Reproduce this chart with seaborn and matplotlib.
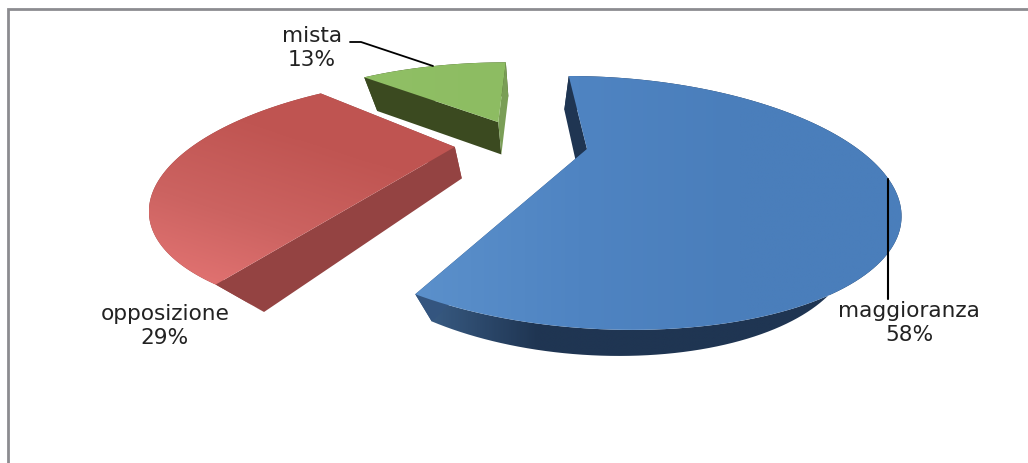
import numpy as np
import matplotlib
matplotlib.use("Agg")
import matplotlib.pyplot as plt
from matplotlib.patches import Polygon
import seaborn as sns

categories = ["maggioranza", "opposizione", "mista"]
shares = [58, 29, 13]

# Layout of the tilted pie (pixel-based data space)
APEX = (587, 150)
F, G, K, SHEAR = 271, 104, 0.425, -26
OFFSETS = [(0.0, 0.0), (-0.49, 0.02), (-0.34, 0.29)]
RADII = [1.0, 0.98, 1.0]
VANISH_X = [536, 495, 540]
VANISH_K = [0.864, 0.827, 0.926]
TOP_COL = [("#5b90cb", "#4f84c2", "#4a7ebb", "#4a7ebb"),
           ("#bf5451", "#c05552", "#cc6361", "#e57574"),
           ("#90c065", "#8dbc62")]
RIM_COL = [("#3b5f88", "#1f3552", "#1f3552", "#1f3552", "#1f3552"),
           ("#944342", "#944342"), ("#3b4a20", "#3b4a20")]
END_COL = ["#34557f", "#944342", "#7a9e56"]
START_COL = ["#1f3552", "#944342", "#3b4a20"]
GRAD_DIR = [(1, 0.0), (-0.3, 0.95), (1, 0)]

sns.set_theme(style="white")
fig = plt.figure(figsize=(10.28, 4.64), dpi=100)
ax = fig.add_axes([0, 0, 1, 1])
ax.set_xlim(0, 1028)
ax.set_ylim(464, 0)
ax.axis("off")


def project(u, v):
    d = 1 + K * v
    return APEX[0] + (F * u + SHEAR * v) / d, APEX[1] - G * v / d


def lower(x, y, i):
    return VANISH_X[i] + VANISH_K[i] * (x - VANISH_X[i]), y + 33 - 0.03 * (y - 100)


def grad_fill(xs, ys, colors, direction, z):
    poly = Polygon(np.column_stack([xs, ys]), closed=True, fc="none", ec="none",
                   transform=ax.transData)
    ax.add_patch(poly)
    x0, x1, y0, y1 = xs.min(), xs.max(), ys.min(), ys.max()
    gx, gy = np.meshgrid(np.linspace(0, 1, 200), np.linspace(0, 1, 200))
    field = direction[0] * gx * (x1 - x0) + direction[1] * gy * (y1 - y0)
    cmap = sns.blend_palette(colors, as_cmap=True)
    im = ax.imshow(field, extent=(x0, x1, y1, y0), cmap=cmap, aspect="auto",
                   zorder=z, interpolation="bilinear")
    im.set_clip_path(poly)


fracs = np.array(shares) / sum(shares)
a0 = 90.0
for i, frac in enumerate(fracs):
    a1 = a0 - 360 * frac
    t = np.radians(np.linspace(a0, a1, 160))
    du, dv = OFFSETS[i]
    ax_, ay_ = project(du, dv)
    rx, ry = project(du + RADII[i] * np.cos(t), dv + RADII[i] * np.sin(t))
    bx, by = lower(rx, ry, i)
    lx, ly = lower(ax_, ay_, i)
    base = 2
    # rim strip
    grad_fill(np.r_[rx, bx[::-1]], np.r_[ry, by[::-1]], RIM_COL[i], (1, 0), base)
    # cut faces
    ax.add_patch(Polygon([(ax_, ay_), (rx[0], ry[0]), (bx[0], by[0]), (lx, ly)],
                         fc=START_COL[i], ec="none", zorder=base + 0.1))
    ax.add_patch(Polygon([(ax_, ay_), (rx[-1], ry[-1]), (bx[-1], by[-1]), (lx, ly)],
                         fc=END_COL[i], ec="none", zorder=base + 0.2))
    # top surface
    grad_fill(np.r_[ax_, rx], np.r_[ay_, ry], TOP_COL[i], GRAD_DIR[i], base + 1)
    a0 = a1

ax.set_xlim(0, 1028)
ax.set_ylim(464, 0)

# frame
ax.plot([8, 8, 1028], [464, 10, 10], color="#8c8c90", lw=2, solid_joinstyle="miter",
        zorder=1)

# leaders
ax.plot([888, 888], [180, 300], color="black", lw=1.5, zorder=6)
ax.plot([350, 361, 433], [43, 43, 67], color="black", lw=1.3, zorder=6)

# labels
label_pos = [(909, 323), (165, 326), (312, 48)]
for name, share, (x, y) in zip(categories, shares, label_pos):
    ax.text(x, y, f"{name}\n{share}%", ha="center", va="center", fontsize=15.6,
            color="#222222", linespacing=1.2, family="DejaVu Sans", zorder=7)

fig.savefig("out.png", dpi=100, facecolor="white")
